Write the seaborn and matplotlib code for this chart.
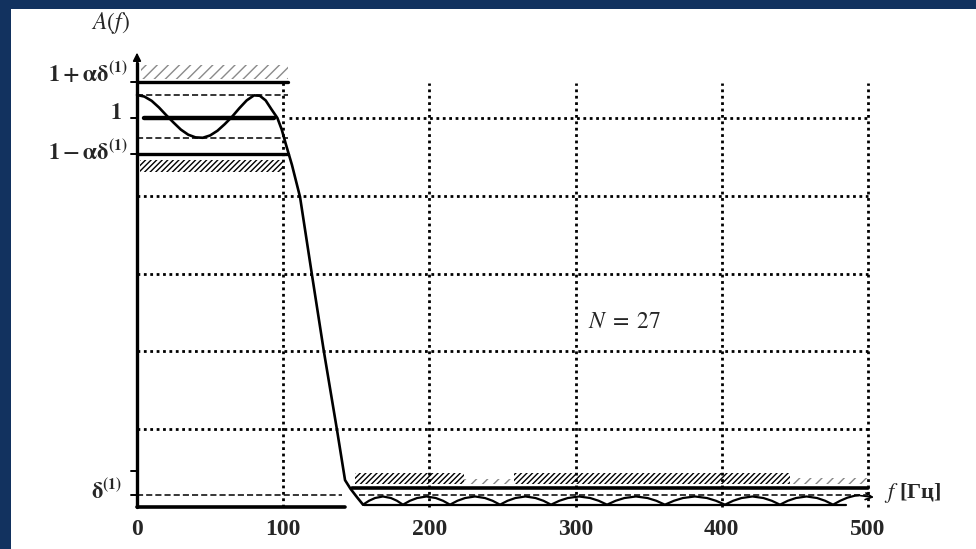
import matplotlib
matplotlib.use("Agg")
import matplotlib.pyplot as plt
import seaborn as sns
import pandas as pd

# ---------------- data ----------------
# passband + transition band of the amplitude response A(f)
pass_f = [0, 5, 10, 15, 20, 25, 30, 35, 40, 45, 50, 55, 60, 65, 70, 75, 80,
          84, 88, 92, 96, 99, 102, 106, 111.5, 119.7, 127.9, 136.8, 142.3,
          146.0, 150.5, 154.6]
pass_a = [1.059, 1.055, 1.044, 1.027, 1.007, 0.988, 0.970, 0.957, 0.950, 0.949,
          0.955, 0.967, 0.984, 1.003, 1.025, 1.045, 1.058, 1.057, 1.045, 1.022,
          1.000, 0.970, 0.930, 0.879, 0.797, 0.596, 0.398, 0.198, 0.069,
          0.047, 0.025, 0.006]
# stopband |A(f)| arches
stop_f = [154.6, 158.7, 162.8, 168.2, 173.7, 177.8, 181.9,
          186.7, 191.6, 198.0, 204.4, 209.3, 214.1,
          219.2, 224.4, 231.2, 238.0, 243.2, 248.3,
          253.5, 258.8, 265.7, 272.6, 278.0, 283.2,
          288.9, 294.7, 302.3, 310.0, 315.8, 321.5,
          327.4, 333.4, 341.3, 349.2, 355.2, 361.1,
          367.3, 373.4, 381.6, 389.9, 396.0, 402.2,
          407.8, 413.5, 421.0, 428.5, 434.2, 439.8,
          445.2, 450.7, 458.0, 465.2, 470.7, 476.1,
          481.0, 486.0, 491.0, 494.0]
stop_a = [0.006, 0.016, 0.023, 0.027, 0.023, 0.016, 0.006,
          0.016, 0.023, 0.027, 0.023, 0.016, 0.006,
          0.016, 0.023, 0.027, 0.023, 0.016, 0.006,
          0.016, 0.023, 0.027, 0.023, 0.016, 0.006,
          0.016, 0.023, 0.027, 0.023, 0.016, 0.006,
          0.016, 0.023, 0.027, 0.023, 0.016, 0.006,
          0.016, 0.023, 0.027, 0.023, 0.016, 0.006,
          0.016, 0.023, 0.027, 0.023, 0.016, 0.006,
          0.016, 0.023, 0.027, 0.023, 0.016, 0.006,
          0.016, 0.024, 0.029, 0.030]

# tolerance levels
pass_upper = 1.093      # 1 + alpha*delta
pass_nominal = 1.0
pass_lower = 0.907      # 1 - alpha*delta
ripple_hi = 1.059
ripple_lo = 0.949
stop_bound = 0.049
delta1 = 0.030

x_ticks = [0, 100, 200, 300, 400, 500]
x_tick_labels = ["0", "100", "200", "300", "400", "500"]
grid_levels = [0.2, 0.4, 0.6, 0.8]
y_tick_marks = [pass_upper, pass_nominal, pass_lower, 0.093, delta1]

# ---------------- styling ----------------
sns.set_style("white")
plt.rcParams["font.family"] = ["Liberation Serif", "DejaVu Serif"]
plt.rcParams["mathtext.fontset"] = "stix"
plt.rcParams["hatch.linewidth"] = 1.0
plt.rcParams["hatch.color"] = "black"

BG = "#12325f"
fig = plt.figure(figsize=(9.76, 5.49), dpi=100, facecolor=BG)
ax = fig.add_axes([11 / 976, 0, 965 / 976, 540 / 549])
ax.set_facecolor("white")
ax.set_xlim(-86.2, 573.9)
ax.set_ylim(-0.108, 1.280)
for s in ax.spines.values():
    s.set_visible(False)
ax.set_xticks([])
ax.set_yticks([])

dot = dict(color="black", lw=2.0, linestyle=(0, (1, 1.3)))

# dotted grid
for g in grid_levels:
    ax.plot([0, 500], [g, g], **dot)
ax.plot([104, 500], [1.0, 1.0], **dot)
for xt in x_ticks[1:]:
    ax.plot([xt, xt], [0.0, 1.09], **dot)

# hatched tolerance bands
ax.fill_between([3, 103], 1.100, 1.135, facecolor="none", edgecolor="#8a8a8a",
                hatch="///", linewidth=0)
ax.fill_between([2, 100], 0.861, 0.892, facecolor="none", edgecolor="black",
                hatch="//////", linewidth=0)
ax.fill_between([149, 224], 0.058, 0.088, facecolor="none", edgecolor="black",
                hatch="//////", linewidth=0)
ax.fill_between([258, 447], 0.058, 0.088, facecolor="none", edgecolor="black",
                hatch="//////", linewidth=0)
ax.fill_between([224, 258], 0.058, 0.072, facecolor="none", edgecolor="#888888",
                hatch="///", linewidth=0)
ax.fill_between([447, 500], 0.058, 0.075, facecolor="none", edgecolor="#888888",
                hatch="///", linewidth=0)

# tolerance lines
ax.plot([0, 103], [pass_upper, pass_upper], color="black", lw=2.4)
ax.plot([5, 94], [pass_nominal, pass_nominal], color="black", lw=3.2)
ax.plot([0, 103], [pass_lower, pass_lower], color="black", lw=2.4)
ax.plot([0, 103], [ripple_hi, ripple_hi], color="black", lw=1.1, linestyle=(0, (4, 2)))
ax.plot([0, 103], [ripple_lo, ripple_lo], color="black", lw=1.1, linestyle=(0, (4, 2)))
ax.plot([147, 500], [stop_bound, stop_bound], color="black", lw=2.6)
ax.plot([0, 140], [delta1, delta1], color="black", lw=1.1, linestyle=(0, (4, 2)))
ax.plot([152, 500], [delta1, delta1], color="black", lw=1.1, linestyle=(0, (4, 2)))

# axes lines
ax.plot([0, 0], [0, 1.14], color="black", lw=2.4)
ax.annotate("", xy=(0, 1.175), xytext=(0, 1.12),
            arrowprops=dict(arrowstyle="-|>", color="black", lw=1.2,
                            mutation_scale=12))
ax.plot([0, 142], [0, 0], color="black", lw=2.6)
ax.plot([155, 485], [0.005, 0.005], color="black", lw=1.6)
ax.annotate("", xy=(506, 0.024), xytext=(493, 0.030),
            arrowprops=dict(arrowstyle="->", color="black", lw=1.2,
                            mutation_scale=12))
for yt in y_tick_marks:
    ax.plot([-4, 0], [yt, yt], color="black", lw=1.4)

# response curve
df_pass = pd.DataFrame({"f": pass_f, "A": pass_a})
df_stop = pd.DataFrame({"f": stop_f, "A": stop_a})
sns.lineplot(data=df_pass, x="f", y="A", sort=False, color="black", lw=1.9,
             ax=ax, estimator=None)
sns.lineplot(data=df_stop, x="f", y="A", sort=False, color="black", lw=1.6,
             ax=ax, estimator=None)
ax.set_xlabel("")
ax.set_ylabel("")

# texts
for xt, lab in zip(x_ticks, x_tick_labels):
    ax.text(xt, -0.059, lab, ha="center", va="center", fontsize=17,
            fontweight="bold")
ax.text(-18.5, 1.245, r"$A(f)$", ha="center", va="center", fontsize=17)
ax.text(-6.5, 1.112, r"$\mathbf{1+\alpha\delta^{(1)}}$", ha="right", va="center",
        fontsize=16)
ax.text(-10.3, 1.010, r"$\mathbf{1}$", ha="right", va="center", fontsize=16)
ax.text(-6.5, 0.912, r"$\mathbf{1-\alpha\delta^{(1)}}$", ha="right", va="center",
        fontsize=16)
ax.text(-10.3, 0.040, r"$\mathbf{\delta^{(1)}}$", ha="right", va="center",
        fontsize=16)
ax.text(308.5, 0.473, r"$N\;=\;27$", ha="left", va="center", fontsize=17)
ax.text(511, 0.036, r"$f$ [Гц]", ha="left", va="center", fontsize=16,
        fontweight="bold")

fig.savefig("out.png", dpi=100, facecolor=BG)
